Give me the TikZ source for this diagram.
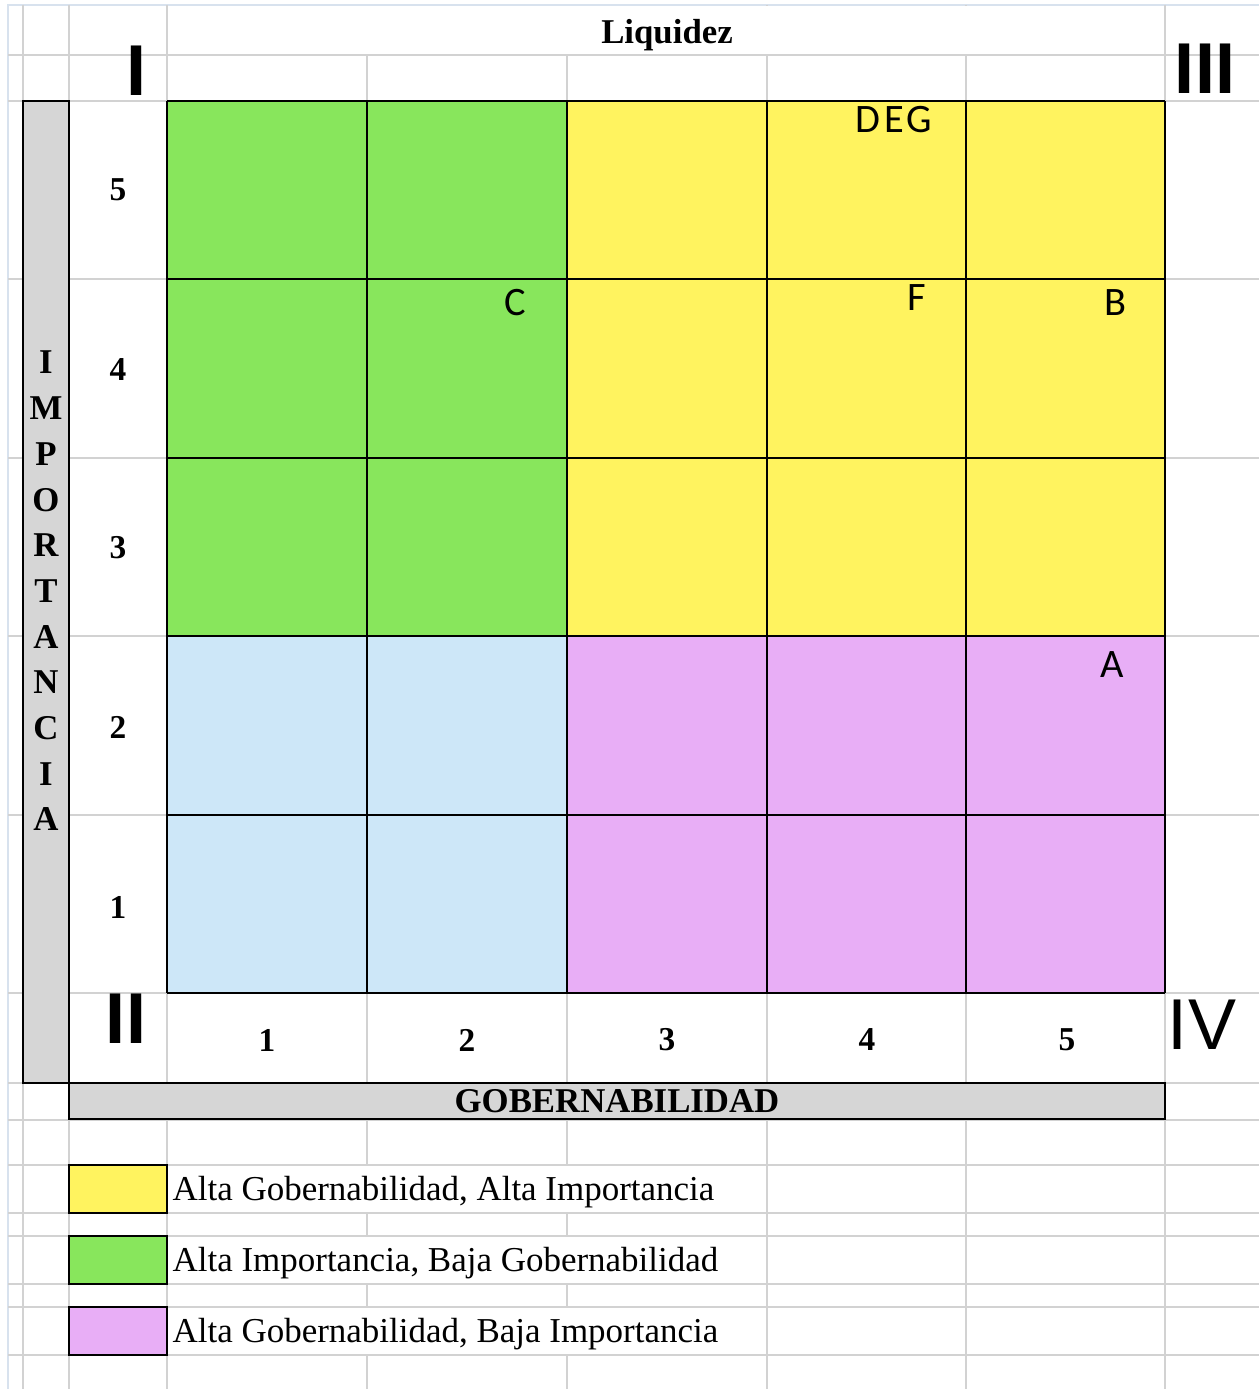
\documentclass[tikz,border=0pt]{standalone}
\usepackage{fontspec}
\setmainfont{Liberation Serif}
\newfontfamily\quadfont{Liberation Sans}
\newfontfamily\tagfont{Carlito}
\usetikzlibrary{positioning}
\definecolor{quadgreen}{HTML}{88E65C}
\definecolor{quadyellow}{HTML}{FFF35F}
\definecolor{quadblue}{HTML}{CDE7F8}
\definecolor{quadpurple}{HTML}{E8AEF6}
\definecolor{bargray}{HTML}{D6D6D6}
\definecolor{sheetgray}{HTML}{D2D2D2}
\definecolor{sheetedge}{HTML}{D8E2EE}
\tikzset{
  sheetline/.style={draw=sheetgray, line width=0.6pt},
  gridline/.style={draw=black, line width=1pt},
  axisbar/.style={fill=bargray, draw=black, line width=1pt},
  axisnum/.style={font=\fontsize{19}{20}\selectfont\bfseries, inner sep=0pt},
  axistitle/.style={font=\fontsize{19.8}{24}\selectfont\bfseries, inner sep=0pt},
  quadnum/.style={font=\quadfont\fontsize{41}{44}\selectfont, inner sep=0pt},
  tag/.style={font=\tagfont\fontsize{23}{26}\selectfont, inner sep=0pt},
  legendbox/.style={draw=black, line width=1pt, minimum width=1.96cm,
    minimum height=0.96cm, inner sep=0pt},
  legendtext/.style={font=\fontsize{19.9}{22}\selectfont, inner sep=0pt}
}
\begin{document}
\begin{tikzpicture}[x=0.02cm, y=-0.02cm]
    \useasboundingbox (0,0) rectangle (1259,1389);
    \fill[white] (0,0) rectangle (1259,1389);
    % spreadsheet grid behind the chart
    \draw[sheetedge, line width=1.2pt] (8,1389) -- (8,5) -- (1259,5);
    \foreach \y in {55,101,279,458,636,815,993,1083,1120,1165,1213,1236,1284,1307,1355}
      \draw[sheetline] (8,\y) -- (1259,\y);
    \foreach \x in {23,69,167,767,966,1165}
      \draw[sheetline] (\x,5) -- (\x,1389);
    \foreach \x in {367,567} {
      \draw[sheetline] (\x,55) -- (\x,1165);
      \draw[sheetline] (\x,1213) -- (\x,1236);
      \draw[sheetline] (\x,1284) -- (\x,1307);
      \draw[sheetline] (\x,1355) -- (\x,1389);
    }
    \fill[white] (169,6) rectangle (1163,54);
    % quadrants
    \fill[quadgreen] (167,101) rectangle (567,636);
    \fill[quadyellow] (567,101) rectangle (1165,636);
    \fill[quadblue] (167,636) rectangle (567,993);
    \fill[quadpurple] (567,636) rectangle (1165,993);
    \foreach \x in {167,367,567,767,966,1165}
      \draw[gridline] (\x,101) -- (\x,993);
    \foreach \y in {101,279,458,636,815,993}
      \draw[gridline] (167,\y) -- (1165,\y);
    % axis bars
    \draw[axisbar] (23,101) rectangle (69,1083);
    \draw[axisbar] (69,1083) rectangle (1165,1119);
    \node[axistitle, anchor=base] (liquidez) at (667,44) {Liquidez};
    \node[axistitle, align=center, font=\fontsize{19.8}{26}\selectfont\bfseries]
      (importancia) at (46,591) {I\\M\\P\\O\\R\\T\\A\\N\\C\\I\\A};
    \node[axistitle] (gobernabilidad) at (617,1101) {GOBERNABILIDAD};
    % row and column numbers
    \foreach \n/\y in {5/190,4/370,3/548,2/727,1/907}
      \node[axisnum] (row\n) at (118,\y) {\n};
    \foreach \n/\x in {1/267,2/467,3/667,4/867,5/1067}
      \node[axisnum] (col\n) at (\x,1040) {\n};
    % quadrant numbers
    \node[quadnum, font=\quadfont\fontsize{41}{44}\selectfont\bfseries] (quadI) at (137,71) {I};
    \node[quadnum, font=\quadfont\fontsize{41}{44}\selectfont\bfseries] (quadIII) at (1205,69) {III};
    \node[quadnum, font=\quadfont\fontsize{41}{44}\selectfont\bfseries] (quadII) at (126,1019) {II};
    \node[quadnum] (quadIV) at (1202,1025) {IV};
    % items
    \node[tag] (tagC) at (515,303) {C};
    \node[tag] (tagF) at (917,298) {F};
    \node[tag] (tagB) at (1115,303) {B};
    \node[tag] (tagA) at (1112,665) {A};
    \node[tag, font=\tagfont\fontsize{23}{26}\selectfont\addfontfeature{LetterSpace=8}] (tagDEG) at (894,120) {DEG};
    % legend
    \node[legendbox, fill=quadyellow] (legyellow) at (118,1189) {};
    \node[legendbox, fill=quadgreen] (leggreen) at (118,1260) {};
    \node[legendbox, fill=quadpurple] (legpurple) at (118,1331) {};
    \node[legendtext, right=2.5pt of legyellow, yshift=-2pt] (legyellowtext) {Alta Gobernabilidad, Alta Importancia};
    \node[legendtext, right=2.5pt of leggreen, yshift=-2pt] (leggreentext) {Alta Importancia, Baja Gobernabilidad};
    \node[legendtext, right=2.5pt of legpurple, yshift=-2pt] (legpurpletext) {Alta Gobernabilidad, Baja Importancia};
\end{tikzpicture}
\end{document}
